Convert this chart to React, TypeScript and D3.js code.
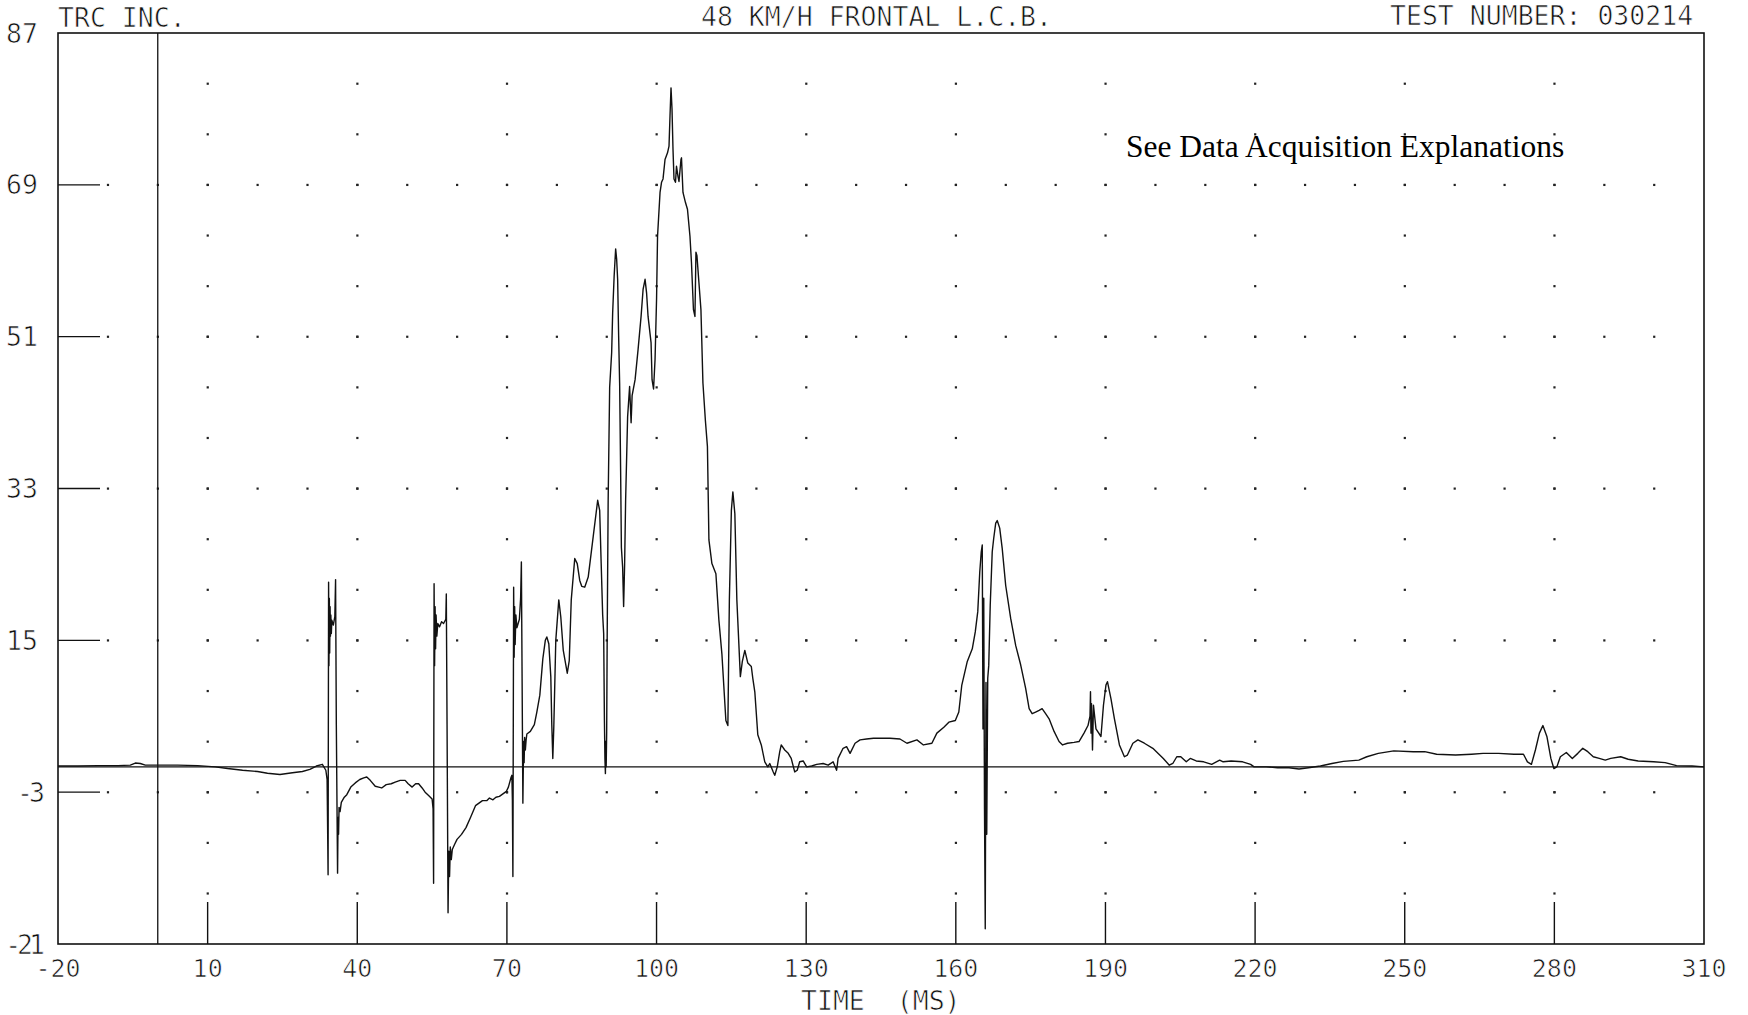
import React from 'react';
import * as d3 from 'd3';

const W = 1748;
const H = 1015;
const FRAME = { left: 58, right: 1704, top: 33, bottom: 944 };

// Axis ticks
const xTicks = [-20, 10, 40, 70, 100, 130, 160, 190, 220, 250, 280, 310];
const yTicks = [87, 69, 51, 33, 15, -3, -21];

// Header / labels
const headerLeft = 'TRC INC.';
const headerCenter = '48 KM/H FRONTAL L.C.B.';
const headerRight = 'TEST NUMBER: 030214';
const xAxisTitle = 'TIME  (MS)';
const noteText = 'See Data Acquisition Explanations';

type Pt = [number, number];

// Trace, [time ms, value]
const preImpact: Pt[] = [
  [-20, 0.1], [-16, 0.1], [-12, 0.15], [-8, 0.15], [-5.5, 0.2], [-4.5, 0.45], [-3.5, 0.4],
  [-2.5, 0.2], [0, 0.2], [4, 0.2], [8, 0.15], [11.5, 0.0], [14, -0.2], [17, -0.4], [20, -0.55],
  [22, -0.75], [24.5, -0.9], [27, -0.7], [29, -0.55], [30.5, -0.3], [31.8, 0.1], [33.0, 0.3],
  [33.7, -0.4], [33.95, -1.5],
];

const firstPulse: Pt[] = [
  [34.05, -7], [34.15, -12.8], [34.25, 21.9], [34.32, 12], [34.4, 20], [34.47, 13.5], [34.55, 19],
  [34.62, 15.5], [34.7, 18], [34.8, 15.8], [34.9, 17.4], [35.2, 16.8], [35.5, 17.8], [35.65, 22.2],
  [35.8, 5], [36.05, -12.6], [36.15, -6], [36.25, -8], [36.35, -4.8], [36.55, -5.3], [36.8, -4.2],
  [37.4, -3.6], [37.9, -3.3], [38.7, -2.4], [39.6, -1.9], [40.5, -1.5], [41.3, -1.3], [41.9, -1.2],
  [42.6, -1.6], [43.6, -2.3], [44.3, -2.4], [44.9, -2.5], [45.8, -2.1], [46.8, -2.0], [47.6, -1.8],
  [48.6, -1.6], [49.6, -1.6], [50.2, -2.0], [51.0, -2.4], [51.7, -2.0], [52.3, -2.0], [53.0, -2.5],
  [53.6, -3.0], [54.3, -3.4], [55.0, -3.8],
];

const secondPulse: Pt[] = [
  [55.2, -5], [55.3, -13.8], [55.4, 21.7], [55.5, 12], [55.6, 19], [55.7, 14], [55.8, 18],
  [55.95, 15.5], [56.15, 17], [56.5, 16.6], [56.9, 17.2], [57.3, 17.0], [57.75, 17.5], [57.85, 20.5],
  [58.0, 5], [58.2, -17.3], [58.35, -10], [58.5, -13], [58.65, -9.5], [58.85, -11], [59.05, -9.8],
  [59.5, -9.2], [60.0, -8.6], [60.9, -8.0], [61.8, -7.2], [62.7, -6.0], [63.7, -4.6], [64.4, -4.3],
  [65.1, -4.0], [66.0, -4.0], [66.5, -3.7], [67.2, -3.9], [67.8, -3.6], [68.5, -3.5], [69.2, -3.2],
  [69.9, -2.9], [70.3, -2.4], [70.8, -1.3], [71.0, -1.0],
];

const thirdPulse: Pt[] = [
  [71.1, -4], [71.2, -13], [71.35, 21.3], [71.45, 13], [71.55, 19], [71.65, 14.5], [71.8, 18],
  [72.0, 16.5], [72.25, 17], [72.5, 17.5], [72.75, 20], [72.9, 24.3], [73.05, 10], [73.2, -4.3],
  [73.35, 3], [73.45, 0.5], [73.55, 3.5], [73.7, 2.0], [73.85, 3.2], [74.0, 3.9], [74.7, 4.2],
  [75.5, 5.0], [76.0, 6.5], [76.6, 8.5], [77.2, 12.8], [77.7, 15], [78.0, 15.4], [78.4, 14.6],
  [78.8, 10.7], [79.0, 5], [79.2, 1.0], [79.4, 4.7], [79.8, 15], [80.4, 19.8], [80.8, 17.8],
  [81.3, 13.8], [82.1, 11.1], [82.5, 12.6], [82.9, 19.8], [83.6, 24.7], [84.1, 24.1], [84.6, 22.1],
  [85.0, 21.4], [85.6, 21.3], [86.3, 22.5], [87.3, 27.3], [88.2, 31.6], [88.6, 30.4], [88.9, 24.1],
  [89.2, 18], [89.4, 15.8], [89.55, 5.5], [89.65, 1], [89.75, -0.8], [89.8, 3], [89.9, 0],
  [90.0, 4], [90.1, 15],
];

const mainPeak: Pt[] = [
  [90.3, 31.6], [90.6, 45], [91.0, 49.1], [91.2, 53.8], [91.5, 58.2], [91.8, 61.4], [92.0, 60.2],
  [92.2, 57.8], [92.4, 51.1], [92.6, 45.5], [92.8, 35], [92.95, 26], [93.2, 23.7], [93.4, 19],
  [93.6, 24], [93.8, 31.6], [94.2, 41.5], [94.6, 45.1], [94.9, 40.8], [95.1, 44], [95.7, 45.9],
  [96.3, 49.5], [96.9, 53.4], [97.3, 56.6], [97.7, 57.8], [98.0, 56.2], [98.3, 53.4], [98.9, 50.3],
  [99.1, 45.9], [99.4, 44.8], [99.7, 48.3], [100.0, 55.4], [100.2, 62.9], [100.7, 68.1],
  [101.0, 69.3], [101.3, 69.7], [101.7, 72], [102.2, 72.8], [102.5, 73.6], [102.7, 77.2],
  [102.9, 80.5], [103.1, 78], [103.3, 73.2], [103.5, 69.7], [103.8, 69.3], [104.0, 71.2],
  [104.3, 70], [104.5, 69.4], [104.9, 72], [105.0, 72.2], [105.3, 68.1], [105.8, 66.9],
  [106.2, 66.1], [106.7, 62.9], [107.0, 59.8], [107.4, 54.2], [107.7, 53.4], [107.9, 61],
  [108.1, 60.6], [108.5, 57.4], [108.9, 54.2], [109.3, 45.5], [109.8, 41], [110.2, 38],
  [110.5, 26.9], [111.1, 24.1], [111.9, 22.9], [112.5, 17.4], [113.1, 13.4], [113.9, 5.5],
  [114.3, 4.9], [114.6, 19.8], [115.0, 30.4], [115.3, 32.6], [115.7, 30], [116.1, 19.8],
  [116.8, 10.7], [117.2, 12.5], [117.7, 13.8], [118.3, 12.3], [119.0, 11.9], [119.3, 10.5],
  [119.7, 8.9], [120.3, 3.8], [121.0, 2.6], [121.7, 0.6], [122.3, 0], [122.7, 0.4], [123.4, -0.6],
  [123.7, -1], [124.2, 0],
];

const midPlateau: Pt[] = [
  [124.7, 1.8], [125.0, 2.6], [125.7, 2.0], [126.4, 1.6], [127.0, 1.0], [127.7, -0.6], [128.2, -0.4],
  [128.7, 0.6], [129.4, 0.7], [130.1, 0], [131.1, 0.1], [132.1, 0.3], [133.4, 0.4], [134.4, 0.2],
  [135.4, 0.6], [136.1, -0.4], [136.4, 1.0], [137.4, 2.2], [138.1, 2.4], [138.8, 1.6], [139.8, 2.8],
  [140.8, 3.2], [142.1, 3.3], [143.5, 3.4], [144.8, 3.4], [146.8, 3.4], [148.8, 3.3], [150.2, 2.8],
  [152.2, 3.2], [153.5, 2.6], [155.2, 2.8], [156.2, 4], [157.6, 4.7], [158.6, 5.3], [159.9, 5.5],
  [160.6, 6.5],
];

const secondPeak: Pt[] = [
  [161.2, 9.7], [162.3, 12.5], [163.3, 14], [163.9, 16], [164.4, 18.4], [164.8, 23.1], [165.1, 25.5],
  [165.3, 26.3], [165.45, 4.5], [165.6, 20], [165.75, -5], [165.9, -19.2], [166.05, 10], [166.2, -8],
  [166.4, 10.5], [166.6, 12], [166.9, 19.2], [167.3, 25.5], [167.6, 27.1], [168.0, 28.9],
  [168.3, 29.2], [168.8, 28.3], [169.3, 25.9], [170.0, 21.5], [171.0, 17.6], [172.0, 14.4],
  [173.0, 12.1], [174.0, 9.3], [174.7, 6.9], [175.3, 6.3], [176.0, 6.5], [176.7, 6.7], [177.3, 6.9],
  [178.0, 6.3], [178.7, 5.7], [179.7, 4.2], [180.7, 3.0], [181.4, 2.6], [182.4, 2.8], [183.7, 2.9],
  [184.7, 3.0], [185.7, 4.0], [186.5, 4.9], [186.9, 6], [187.0, 8.9], [187.1, 4], [187.2, 7.5],
  [187.4, 2], [187.6, 7.3], [188.1, 4.5], [189.1, 3.6], [189.6, 7.3], [190.1, 9.7], [190.4, 10.1],
  [191.1, 8.1], [191.8, 5.7], [192.8, 2.6], [193.8, 1.2], [194.4, 1.4], [195.5, 2.8], [196.5, 3.2],
  [197.8, 2.8], [199.5, 2.2],
];

const lateTail: Pt[] = [
  [201.6, 1.0], [202.8, 0.2], [203.5, 0.4], [204.3, 1.2], [205.1, 1.2], [206.2, 0.6], [207.0, 1.0],
  [208.2, 0.7], [209.7, 0.6], [211.3, 0.3], [212.9, 0.8], [213.6, 0.6], [215.2, 0.7], [217.5, 0.6],
  [219.1, 0.3], [219.8, 0], [222.2, 0], [224.5, -0.1], [226.8, -0.1], [228.8, -0.25], [230.7, -0.1],
  [233.1, 0.1], [235.4, 0.4], [237.7, 0.65], [240.8, 0.8], [242.4, 1.2], [244.7, 1.6], [247.8, 1.9],
  [251.7, 1.8], [254.0, 1.8], [256.4, 1.5], [260.2, 1.4], [263.4, 1.5], [265.7, 1.6], [268.8, 1.6],
  [271.9, 1.5], [273.8, 1.5], [274.6, 0.6], [275.4, 0.3], [276.2, 2], [277.0, 4], [277.7, 4.9],
  [278.5, 3.6], [279.3, 1], [279.9, -0.2], [280.5, 0], [281.2, 1.2], [282.4, 1.7], [283.6, 1],
  [284.7, 1.6], [285.7, 2.2], [286.7, 1.8], [287.8, 1.2], [289.0, 1.0], [290.2, 0.8], [291.3, 1.0],
  [293.3, 1.2], [294.8, 0.9], [296.8, 0.7], [299.9, 0.6], [302.2, 0.5], [304.5, 0.15], [307.6, 0.1],
  [310, 0],
];

const trace: Pt[] = [
  ...preImpact, ...firstPulse, ...secondPulse, ...thirdPulse,
  ...mainPeak, ...midPlateau, ...secondPeak, ...lateTail,
];

const INK = '#111';
const MONO = '"DejaVu Sans Mono", "Liberation Mono", monospace';

function PlotText(props: {
  x: number; y: number; children: string; anchor?: 'start' | 'middle' | 'end';
  size?: number; spacing?: number;
}) {
  const { x, y, children, anchor = 'start', size = 26.5, spacing = 0 } = props;
  return (
    <text
      x={x}
      y={y}
      textAnchor={anchor}
      fontFamily={MONO}
      fontSize={size}
      letterSpacing={spacing}
      fill={INK}
      stroke="#fff"
      strokeWidth={0.7}
      style={{ whiteSpace: 'pre' }}
    >
      {children}
    </text>
  );
}

export default function App() {
  const x = d3.scaleLinear().domain([-20, 310]).range([FRAME.left, FRAME.right]);
  const y = d3.scaleLinear().domain([-21, 87]).range([FRAME.bottom, FRAME.top]);

  const line = d3
    .line<Pt>()
    .x((d) => x(d[0]))
    .y((d) => y(d[1]));

  const innerX = xTicks.slice(1, -1);
  const innerY = yTicks.slice(1, -1);

  // plotter dot grid: fine steps along major rows, coarse steps along major columns
  const rowDots: Pt[] = [];
  innerY.forEach((v) => {
    d3.range(-10, 310, 10).forEach((t) => rowDots.push([t, v]));
  });
  const colDots: Pt[] = [];
  innerX.forEach((t) => {
    d3.range(-15, 87, 6).forEach((v) => colDots.push([t, v]));
  });
  const dots = [...rowDots, ...colDots];

  const tickLen = 42;

  return (
    <svg
      width={W}
      height={H}
      viewBox={`0 0 ${W} ${H}`}
      style={{ position: 'absolute', left: 0, top: 0, background: '#fff' }}
    >
      <rect x={0} y={0} width={W} height={H} fill="#fff" />

      {/* header */}
      <PlotText x={FRAME.left} y={27}>{headerLeft}</PlotText>
      <PlotText x={701} y={26}>{headerCenter}</PlotText>
      <PlotText x={1390} y={25}>{headerRight}</PlotText>

      {/* grid dots */}
      <g fill="#222">
        {dots.map(([t, v], i) => (
          <rect key={i} x={x(t) - 1} y={y(v) - 1} width={2.2} height={2.2} />
        ))}
      </g>

      {/* frame */}
      <rect
        x={FRAME.left}
        y={FRAME.top}
        width={FRAME.right - FRAME.left}
        height={FRAME.bottom - FRAME.top}
        fill="none"
        stroke={INK}
        strokeWidth={1.6}
      />

      {/* ticks */}
      <g stroke={INK} strokeWidth={1.4}>
        {innerY.map((v) => (
          <line key={v} x1={FRAME.left} x2={FRAME.left + tickLen} y1={y(v)} y2={y(v)} />
        ))}
        {innerX.map((t) => (
          <line key={t} x1={x(t)} x2={x(t)} y1={FRAME.bottom} y2={FRAME.bottom - tickLen} />
        ))}
      </g>

      {/* reference lines at t = 0 and value = 0 */}
      <line x1={x(0)} x2={x(0)} y1={FRAME.top} y2={FRAME.bottom} stroke={INK} strokeWidth={1.3} />
      <line x1={FRAME.left} x2={FRAME.right} y1={y(0)} y2={y(0)} stroke={INK} strokeWidth={1.2} />

      {/* trace */}
      <path
        d={line(trace) ?? ''}
        fill="none"
        stroke={INK}
        strokeWidth={1.4}
        strokeLinejoin="round"
      />

      {/* y labels */}
      {yTicks.map((v) => (
        <PlotText
          key={v}
          x={v < 0 ? 41 : 38}
          y={y(v) + 9.5}
          anchor="end"
          spacing={v < 0 ? -4 : 0}
        >
          {String(v)}
        </PlotText>
      ))}

      {/* x labels */}
      {xTicks.map((t) => (
        <PlotText key={t} x={x(t)} y={977} anchor="middle" size={25}>{String(t)}</PlotText>
      ))}

      <PlotText x={801} y={1010}>{xAxisTitle}</PlotText>

      <text
        x={1126}
        y={157}
        fontFamily='"Liberation Serif", "Times New Roman", serif'
        fontSize={31.5}
        fill="#000"
      >
        {noteText}
      </text>
    </svg>
  );
}
